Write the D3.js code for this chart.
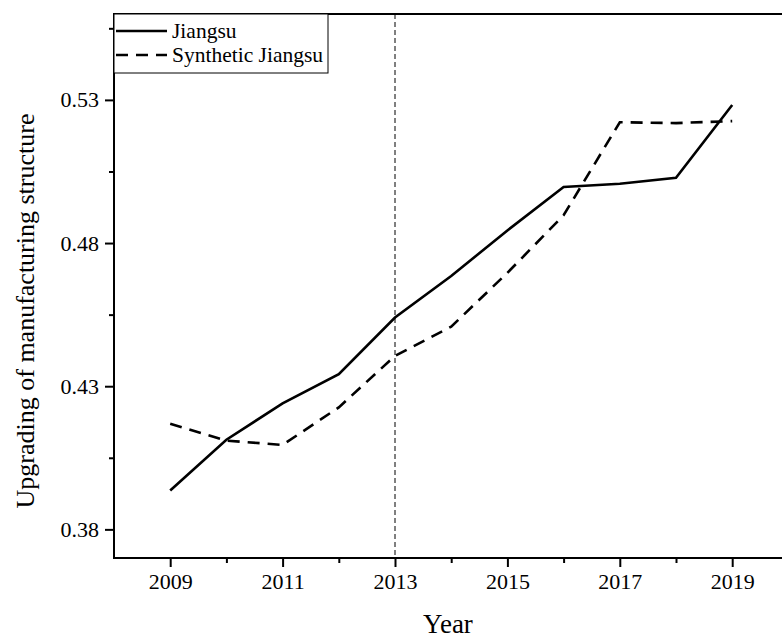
<!DOCTYPE html>
<html>
<head>
<meta charset="utf-8">
<script src="https://cdn.jsdelivr.net/npm/d3@7"></script>
<style>
  html, body { margin: 0; padding: 0; background: #fff; }
  svg { display: block; }
  text { font-family: "Liberation Serif", "Times New Roman", serif; fill: #000; }
</style>
</head>
<body>
<div id="chart"></div>
<script>
'use strict';

// values
const years = [2009, 2010, 2011, 2012, 2013, 2014, 2015, 2016, 2017, 2018, 2019];
const jiangsu = [0.3936, 0.4113, 0.4240, 0.4342, 0.4540, 0.4685, 0.4844, 0.4996, 0.5007, 0.5028, 0.5282];
const synthetic = [0.4169, 0.4110, 0.4095, 0.4226, 0.4406, 0.4508, 0.4696, 0.4897, 0.5222, 0.5219, 0.5226];
const xTicks = [2009, 2011, 2013, 2015, 2017, 2019];
const xMinor = [2010, 2012, 2014, 2016, 2018];
const yTicks = [0.38, 0.43, 0.48, 0.53];
const yMinor = [0.405, 0.455, 0.505, 0.555];
const treatYear = 2013;
const seriesNames = ['Jiangsu', 'Synthetic Jiangsu'];

const width = 782;
const height = 639;
const margin = { top: 14, left: 114, bottom: 81 };

const svg = d3.select('#chart')
  .append('svg')
    .attr('width', width)
    .attr('height', height);

// plot is cut on the right in the original, so the range runs past the edge
const x = d3.scaleLinear()
  .domain([2008, 2020])
  .range([margin.left, margin.left + 12 * 56.2]);

const y = d3.scaleLinear()
  .domain([0.37, 0.56])
  .range([height - margin.bottom, margin.top]);

const plotBottom = height - margin.bottom;

function styleAxis(g) {
  g.attr('font-family', null).attr('font-size', null);
  g.select('.domain').remove();
  g.selectAll('.tick line').attr('stroke-width', 2);
  g.selectAll('.tick text').style('font-size', '22px');
}

// x axis, major and minor
svg.append('g')
  .attr('transform', `translate(0,${plotBottom})`)
  .call(d3.axisBottom(x).tickValues(xTicks).tickFormat(d3.format('d')).tickSize(9).tickPadding(6))
  .call(styleAxis);

svg.append('g')
  .attr('transform', `translate(0,${plotBottom})`)
  .call(d3.axisBottom(x).tickValues(xMinor).tickFormat('').tickSize(5))
  .call(styleAxis);

// y axis, major and minor
svg.append('g')
  .attr('transform', `translate(${margin.left},0)`)
  .call(d3.axisLeft(y).tickValues(yTicks).tickFormat(d3.format('.2f')).tickSize(9).tickPadding(6))
  .call(styleAxis);

svg.append('g')
  .attr('transform', `translate(${margin.left},0)`)
  .call(d3.axisLeft(y).tickValues(yMinor).tickFormat('').tickSize(5))
  .call(styleAxis);

// frame lines (left, bottom, top)
svg.append('path')
  .attr('d', `M${width + 5},${margin.top}H${margin.left}V${plotBottom}H${width + 5}`)
  .attr('fill', 'none')
  .attr('stroke', '#000')
  .attr('stroke-width', 2);

// intervention year
svg.append('line')
  .attr('x1', x(treatYear))
  .attr('x2', x(treatYear))
  .attr('y1', margin.top)
  .attr('y2', plotBottom)
  .attr('stroke', '#000')
  .attr('stroke-width', 1)
  .attr('stroke-dasharray', '5,3');

const line = d3.line()
  .x((d, i) => x(years[i]))
  .y((d) => y(d));

svg.append('path')
  .datum(jiangsu)
  .attr('d', line)
  .attr('fill', 'none')
  .attr('stroke', '#000')
  .attr('stroke-width', 2.6);

svg.append('path')
  .datum(synthetic)
  .attr('d', line)
  .attr('fill', 'none')
  .attr('stroke', '#000')
  .attr('stroke-width', 2.6)
  .attr('stroke-dasharray', '12,8');

// legend
const legend = svg.append('g');
legend.append('rect')
  .attr('x', margin.left)
  .attr('y', margin.top)
  .attr('width', 214)
  .attr('height', 59)
  .attr('fill', '#fff')
  .attr('stroke', '#000')
  .attr('stroke-width', 1);

seriesNames.forEach((name, i) => {
  const ly = 31 + i * 24;
  legend.append('line')
    .attr('x1', margin.left + 2)
    .attr('x2', 167)
    .attr('y1', ly)
    .attr('y2', ly)
    .attr('stroke', '#000')
    .attr('stroke-width', 2.6)
    .attr('stroke-dasharray', i === 1 ? '12,8' : null);
  legend.append('text')
    .attr('x', 172)
    .attr('y', ly + 7)
    .style('font-size', '21.5px')
    .text(name);
});

// axis titles
svg.append('text')
  .attr('x', (margin.left + width) / 2)
  .attr('y', 633)
  .attr('text-anchor', 'middle')
  .style('font-size', '27px')
  .text('Year');

svg.append('text')
  .attr('transform', `translate(34,311) rotate(-90)`)
  .attr('text-anchor', 'middle')
  .style('font-size', '26px')
  .text('Upgrading of manufacturing structure');
</script>
</body>
</html>
